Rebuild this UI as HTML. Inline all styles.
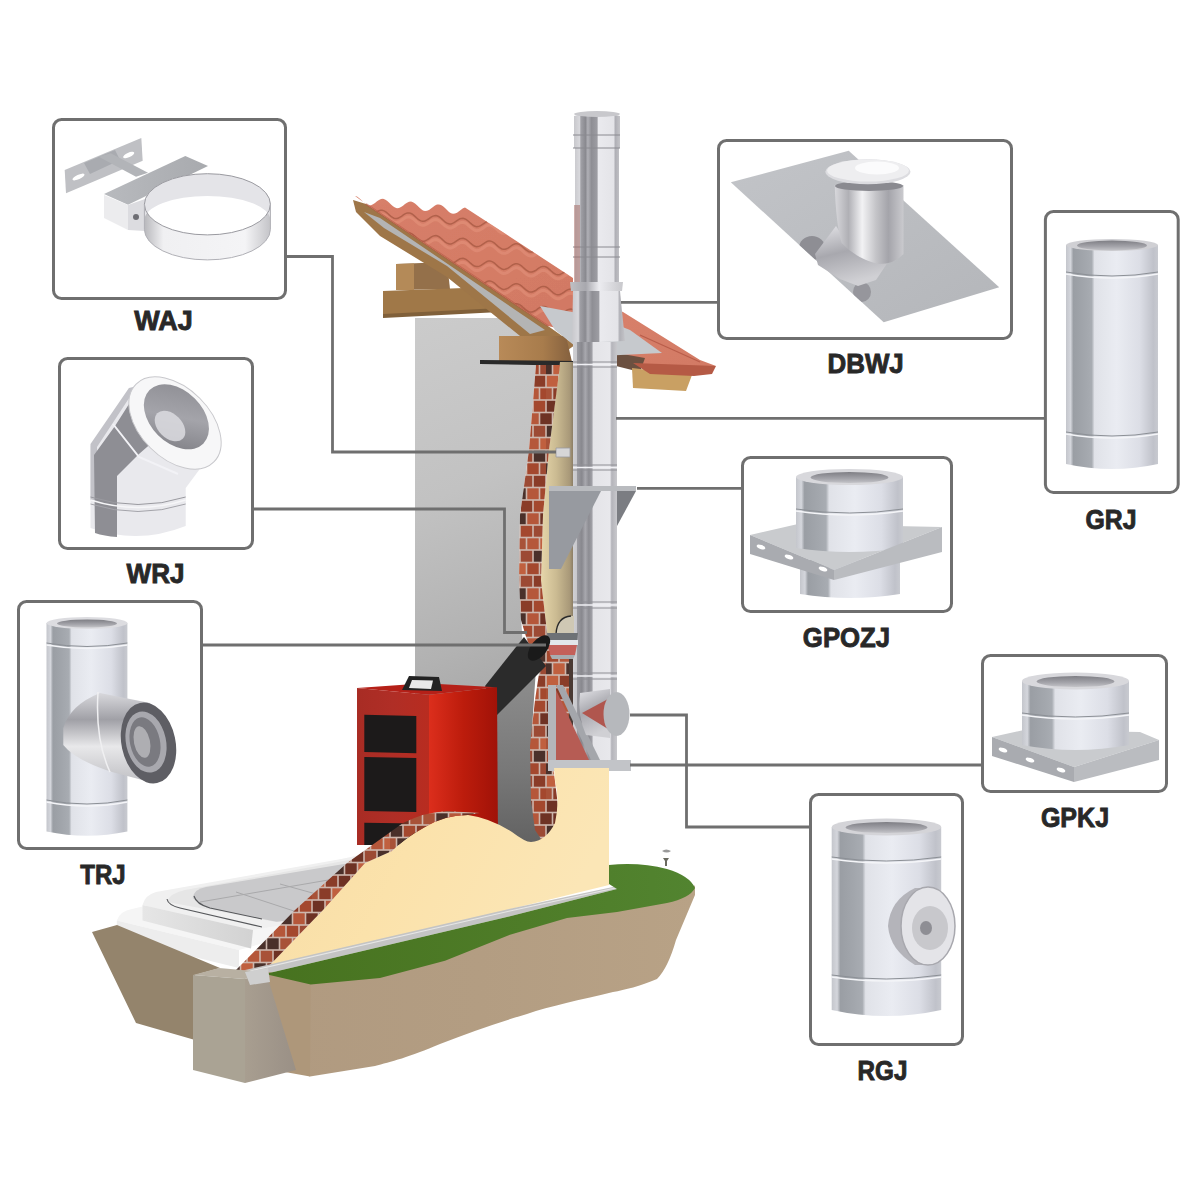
<!DOCTYPE html>
<html><head><meta charset="utf-8">
<style>
html,body{margin:0;padding:0;background:#fff;width:1200px;height:1200px;overflow:hidden}
svg{display:block}
text{font-family:"Liberation Sans",sans-serif;font-weight:bold;fill:#282828;stroke:#282828;stroke-width:0.9px;font-size:28px;text-anchor:middle}
</style></head>
<body>
<svg width="1200" height="1200" viewBox="0 0 1200 1200">
<defs>
<linearGradient id="gWall" gradientUnits="userSpaceOnUse" x1="400" y1="330" x2="560" y2="720">
<stop offset="0" stop-color="#cbcbcb"/><stop offset="0.4" stop-color="#c2c2c2"/><stop offset="0.75" stop-color="#b2b2b2"/><stop offset="1" stop-color="#a2a2a2"/></linearGradient>
<linearGradient id="gWallShade" gradientUnits="userSpaceOnUse" x1="0" y1="690" x2="0" y2="850"><stop offset="0" stop-color="#8a8a8a"/><stop offset="0.5" stop-color="#787878"/><stop offset="1" stop-color="#606060"/></linearGradient>
<linearGradient id="gTile" x1="0" y1="0" x2="1" y2="1"><stop offset="0" stop-color="#d8806a"/><stop offset="1" stop-color="#d27a64"/></linearGradient>
<linearGradient id="gWood" x1="0" y1="0" x2="1" y2="0"><stop offset="0" stop-color="#b88a58"/><stop offset="0.6" stop-color="#a87c4c"/><stop offset="1" stop-color="#84603e"/></linearGradient>
<linearGradient id="gIns" x1="0" y1="0" x2="1" y2="0"><stop offset="0" stop-color="#e6d6aa"/><stop offset="0.45" stop-color="#cbbb92"/><stop offset="0.85" stop-color="#a89878"/><stop offset="1" stop-color="#7a6e5a"/></linearGradient>
<linearGradient id="gPipe" x1="0" y1="0" x2="1" y2="0">
<stop offset="0" stop-color="#c8c8cc"/><stop offset="0.12" stop-color="#d8d8dc"/><stop offset="0.15" stop-color="#a0a0a6"/><stop offset="0.25" stop-color="#8a8a90"/><stop offset="0.3" stop-color="#b0b0b6"/><stop offset="0.38" stop-color="#8e8e94"/><stop offset="0.5" stop-color="#9c9ca2"/><stop offset="0.53" stop-color="#eaeaee"/><stop offset="0.86" stop-color="#e4e4e8"/><stop offset="0.9" stop-color="#b0b0b6"/><stop offset="1" stop-color="#c4c4c8"/>
</linearGradient>
<linearGradient id="gPipe2" x1="0" y1="0" x2="1" y2="0">
<stop offset="0" stop-color="#d0d0d4"/><stop offset="0.08" stop-color="#c8c8cc"/><stop offset="0.1" stop-color="#9a9aa0"/><stop offset="0.2" stop-color="#88888e"/><stop offset="0.28" stop-color="#a8a8ae"/><stop offset="0.36" stop-color="#8c8c92"/><stop offset="0.43" stop-color="#a0a0a6"/><stop offset="0.46" stop-color="#e4e4e8"/><stop offset="0.84" stop-color="#e8e8ec"/><stop offset="0.88" stop-color="#b4b4ba"/><stop offset="1" stop-color="#c8c8cc"/>
</linearGradient>
<linearGradient id="gBoilerSide" x1="0" y1="0" x2="1" y2="0"><stop offset="0" stop-color="#dc2e1c"/><stop offset="0.5" stop-color="#bc1c0c"/><stop offset="1" stop-color="#a01208"/></linearGradient>
<linearGradient id="gCream" x1="0" y1="0" x2="1" y2="0.3"><stop offset="0" stop-color="#f6dca6"/><stop offset="0.5" stop-color="#fbe2ab"/><stop offset="1" stop-color="#fbe6b6"/></linearGradient>
<linearGradient id="gGrass" x1="0" y1="0" x2="1" y2="0"><stop offset="0" stop-color="#47721f"/><stop offset="0.6" stop-color="#4e7c28"/><stop offset="1" stop-color="#528430"/></linearGradient>
<linearGradient id="gSoil" x1="0" y1="0" x2="1" y2="0"><stop offset="0" stop-color="#b09a80"/><stop offset="0.5" stop-color="#b39d82"/><stop offset="1" stop-color="#b8a286"/></linearGradient>
<pattern id="pBrick" width="78" height="100" patternUnits="userSpaceOnUse">
<rect width="78" height="100" fill="#cdb6ac"/>
<rect x="0.8" y="0.8" width="11.4" height="10.9" fill="#6e3224"/>
<rect x="13.8" y="0.8" width="11.4" height="10.9" fill="#b5573a"/>
<rect x="26.8" y="0.8" width="11.4" height="10.9" fill="#c0603f"/>
<rect x="39.8" y="0.8" width="11.4" height="10.9" fill="#a85238"/>
<rect x="52.8" y="0.8" width="11.4" height="10.9" fill="#8a3c28"/>
<rect x="65.8" y="0.8" width="11.4" height="10.9" fill="#a4482e"/>
<rect x="78.8" y="0.8" width="11.4" height="10.9" fill="#a85238"/>
<rect x="91.8" y="0.8" width="11.4" height="10.9" fill="#9c4a34"/>
<rect x="-5.7" y="13.3" width="11.4" height="10.9" fill="#6e3224"/>
<rect x="7.3" y="13.3" width="11.4" height="10.9" fill="#6e3224"/>
<rect x="20.3" y="13.3" width="11.4" height="10.9" fill="#a85238"/>
<rect x="33.3" y="13.3" width="11.4" height="10.9" fill="#a85238"/>
<rect x="46.3" y="13.3" width="11.4" height="10.9" fill="#4a302a"/>
<rect x="59.3" y="13.3" width="11.4" height="10.9" fill="#b5573a"/>
<rect x="72.3" y="13.3" width="11.4" height="10.9" fill="#6e3224"/>
<rect x="85.3" y="13.3" width="11.4" height="10.9" fill="#b5573a"/>
<rect x="0.8" y="25.8" width="11.4" height="10.9" fill="#4a302a"/>
<rect x="13.8" y="25.8" width="11.4" height="10.9" fill="#a4482e"/>
<rect x="26.8" y="25.8" width="11.4" height="10.9" fill="#8a3c28"/>
<rect x="39.8" y="25.8" width="11.4" height="10.9" fill="#b5573a"/>
<rect x="52.8" y="25.8" width="11.4" height="10.9" fill="#a4482e"/>
<rect x="65.8" y="25.8" width="11.4" height="10.9" fill="#9c4a34"/>
<rect x="78.8" y="25.8" width="11.4" height="10.9" fill="#a4482e"/>
<rect x="91.8" y="25.8" width="11.4" height="10.9" fill="#9c4a34"/>
<rect x="-5.7" y="38.3" width="11.4" height="10.9" fill="#a85238"/>
<rect x="7.3" y="38.3" width="11.4" height="10.9" fill="#4a302a"/>
<rect x="20.3" y="38.3" width="11.4" height="10.9" fill="#4a302a"/>
<rect x="33.3" y="38.3" width="11.4" height="10.9" fill="#4a302a"/>
<rect x="46.3" y="38.3" width="11.4" height="10.9" fill="#a85238"/>
<rect x="59.3" y="38.3" width="11.4" height="10.9" fill="#b5573a"/>
<rect x="72.3" y="38.3" width="11.4" height="10.9" fill="#c0603f"/>
<rect x="85.3" y="38.3" width="11.4" height="10.9" fill="#8a3c28"/>
<rect x="0.8" y="50.8" width="11.4" height="10.9" fill="#a4482e"/>
<rect x="13.8" y="50.8" width="11.4" height="10.9" fill="#b5573a"/>
<rect x="26.8" y="50.8" width="11.4" height="10.9" fill="#a85238"/>
<rect x="39.8" y="50.8" width="11.4" height="10.9" fill="#6e3224"/>
<rect x="52.8" y="50.8" width="11.4" height="10.9" fill="#9c4a34"/>
<rect x="65.8" y="50.8" width="11.4" height="10.9" fill="#4a302a"/>
<rect x="78.8" y="50.8" width="11.4" height="10.9" fill="#9c4a34"/>
<rect x="91.8" y="50.8" width="11.4" height="10.9" fill="#4a302a"/>
<rect x="-5.7" y="63.3" width="11.4" height="10.9" fill="#4a302a"/>
<rect x="7.3" y="63.3" width="11.4" height="10.9" fill="#c0603f"/>
<rect x="20.3" y="63.3" width="11.4" height="10.9" fill="#4a302a"/>
<rect x="33.3" y="63.3" width="11.4" height="10.9" fill="#6e3224"/>
<rect x="46.3" y="63.3" width="11.4" height="10.9" fill="#c0603f"/>
<rect x="59.3" y="63.3" width="11.4" height="10.9" fill="#a4482e"/>
<rect x="72.3" y="63.3" width="11.4" height="10.9" fill="#9c4a34"/>
<rect x="85.3" y="63.3" width="11.4" height="10.9" fill="#b5573a"/>
<rect x="0.8" y="75.8" width="11.4" height="10.9" fill="#c0603f"/>
<rect x="13.8" y="75.8" width="11.4" height="10.9" fill="#8a3c28"/>
<rect x="26.8" y="75.8" width="11.4" height="10.9" fill="#6e3224"/>
<rect x="39.8" y="75.8" width="11.4" height="10.9" fill="#9c4a34"/>
<rect x="52.8" y="75.8" width="11.4" height="10.9" fill="#9c4a34"/>
<rect x="65.8" y="75.8" width="11.4" height="10.9" fill="#8a3c28"/>
<rect x="78.8" y="75.8" width="11.4" height="10.9" fill="#8a3c28"/>
<rect x="91.8" y="75.8" width="11.4" height="10.9" fill="#a85238"/>
<rect x="-5.7" y="88.3" width="11.4" height="10.9" fill="#a85238"/>
<rect x="7.3" y="88.3" width="11.4" height="10.9" fill="#8a3c28"/>
<rect x="20.3" y="88.3" width="11.4" height="10.9" fill="#c0603f"/>
<rect x="33.3" y="88.3" width="11.4" height="10.9" fill="#8a3c28"/>
<rect x="46.3" y="88.3" width="11.4" height="10.9" fill="#4a302a"/>
<rect x="59.3" y="88.3" width="11.4" height="10.9" fill="#b5573a"/>
<rect x="72.3" y="88.3" width="11.4" height="10.9" fill="#a4482e"/>
<rect x="85.3" y="88.3" width="11.4" height="10.9" fill="#9c4a34"/>
</pattern>
<linearGradient id="gMetal" x1="0" y1="0" x2="1" y2="0">
<stop offset="0" stop-color="#c4c6cc"/><stop offset="0.05" stop-color="#d4d6dc"/><stop offset="0.08" stop-color="#9a9ea4"/><stop offset="0.2" stop-color="#a2a6ac"/><stop offset="0.28" stop-color="#a8acb2"/><stop offset="0.31" stop-color="#e0e2e8"/><stop offset="0.55" stop-color="#eaecf2"/><stop offset="0.8" stop-color="#dcdee6"/><stop offset="0.95" stop-color="#c0c2ca"/><stop offset="1" stop-color="#c8cad0"/>
</linearGradient>
<linearGradient id="gSlab" x1="0" y1="0" x2="1" y2="0"><stop offset="0" stop-color="#e6e6e6"/><stop offset="1" stop-color="#d2d2d2"/></linearGradient>
<linearGradient id="gArm" x1="0" y1="0" x2="1" y2="0"><stop offset="0" stop-color="#b8babe"/><stop offset="1" stop-color="#a8aaae"/></linearGradient>
<linearGradient id="gRing" x1="0" y1="0" x2="1" y2="0"><stop offset="0" stop-color="#b8b8bc"/><stop offset="0.15" stop-color="#f0f0f2"/><stop offset="0.8" stop-color="#f4f4f6"/><stop offset="1" stop-color="#c4c4c8"/></linearGradient>
<linearGradient id="gHole" x1="0" y1="0" x2="1" y2="1"><stop offset="0" stop-color="#8a8a90"/><stop offset="0.5" stop-color="#a4a4aa"/><stop offset="1" stop-color="#7a7a80"/></linearGradient>
<linearGradient id="gBranch" x1="0" y1="0" x2="0" y2="1"><stop offset="0" stop-color="#d8d8dc"/><stop offset="0.3" stop-color="#a0a0a6"/><stop offset="0.6" stop-color="#e8e8ea"/><stop offset="1" stop-color="#c0c0c4"/></linearGradient>
<linearGradient id="gMetal2" x1="0" y1="0" x2="1" y2="0"><stop offset="0" stop-color="#d8d8dc"/><stop offset="0.2" stop-color="#b0b0b5"/><stop offset="0.4" stop-color="#f2f2f4"/><stop offset="0.6" stop-color="#c4c4c8"/><stop offset="0.78" stop-color="#a4a4aa"/><stop offset="1" stop-color="#cacace"/></linearGradient>
<linearGradient id="gSheet" x1="0" y1="0" x2="1" y2="1"><stop offset="0" stop-color="#c2c4c8"/><stop offset="1" stop-color="#b4b6ba"/></linearGradient>
<linearGradient id="gTube" x1="0" y1="0" x2="0.3" y2="1"><stop offset="0" stop-color="#e4e4e8"/><stop offset="0.5" stop-color="#a8a8ae"/><stop offset="1" stop-color="#d0d0d4"/></linearGradient>
<linearGradient id="gCollar" x1="0" y1="0" x2="1" y2="0"><stop offset="0" stop-color="#c0c0c4"/><stop offset="0.3" stop-color="#a8a8ae"/><stop offset="0.55" stop-color="#ececf0"/><stop offset="1" stop-color="#c8c8cc"/></linearGradient>
<linearGradient id="gTopHole" x1="0" y1="0" x2="0" y2="1"><stop offset="0" stop-color="#7e7e84"/><stop offset="0.6" stop-color="#a4a4aa"/><stop offset="1" stop-color="#c4c4c8"/></linearGradient>
<linearGradient id="gFound" x1="0" y1="0" x2="1" y2="0"><stop offset="0" stop-color="#a89e90"/><stop offset="1" stop-color="#9a9086"/></linearGradient>
<linearGradient id="gBoilerFront" x1="0" y1="0" x2="1" y2="0"><stop offset="0" stop-color="#a82c24"/><stop offset="0.5" stop-color="#b02e26"/><stop offset="1" stop-color="#b82c20"/></linearGradient>
</defs>

<g id="house">
<!-- gray wall panel -->
<path d="M415,318 L520,318 L540,340 L548,360 L536,365 L529,450 L520,515 L519,580 L523,650 L531,745 L536,800 L550,850 L496,850 L496,700 L415,700 Z" fill="url(#gWall)"/>
<path d="M496,714 L536,668 L531,745 L536,800 L550,850 L496,850 Z" fill="url(#gWallShade)"/>
<!-- wooden beams behind roof -->
<path d="M396,264 L447,262 L450,289 L396,290 Z" fill="#94704a"/>
<path d="M396,264 L414,263.5 L414,290 L396,290 Z" fill="#b48a58"/>
<path d="M383,291 L491,287 L500,310 L383,317 Z" fill="#a07848"/>
<path d="M383,314 L500,308 L500,312 L383,318 Z" fill="#80603a"/>
<!-- roof underlayer (battens / membrane) -->
<path d="M353,200 L366,204 L548,326 L575,345 L565,352 L525,340 L447,277 L380,236 L356,212 Z" fill="#9e7648"/>
<path d="M364,212 L380,218 L545,330 L530,334 L447,266 L384,228 Z" fill="#b4b4b4"/>
<!-- roof tiles left -->
<clipPath id="cTile"><path d="M355.0,196.0 L357.0,196.6 L359.0,197.9 L361.0,199.7 L363.0,201.7 L365.0,203.5 L367.0,204.8 L369.0,205.4 L371.0,205.2 L373.0,204.3 L375.0,202.9 L377.0,201.3 L379.0,199.9 L381.0,199.0 L383.0,198.8 L385.0,199.4 L387.0,200.7 L389.0,202.5 L391.0,204.5 L393.0,206.3 L395.0,207.6 L397.0,208.2 L399.0,208.0 L401.0,207.1 L403.0,205.7 L405.0,204.1 L407.0,202.7 L409.0,201.8 L411.0,201.6 L413.0,202.2 L415.0,203.5 L417.0,205.3 L419.0,207.3 L421.0,209.1 L423.0,210.4 L425.0,211.0 L427.0,210.8 L429.0,209.9 L431.0,208.5 L433.0,206.9 L435.0,205.5 L437.0,204.6 L439.0,204.4 L441.0,205.0 L443.0,206.3 L445.0,208.1 L447.0,210.1 L449.0,211.9 L451.0,213.2 L453.0,213.8 L455.0,213.6 L457.0,212.7 L459.0,211.3 L461.0,209.7 L463.0,208.3 L465.0,207.4 L573,278 L573,332 L548,326 L366,204 Z"/></clipPath>
<path d="M355.0,196.0 L357.0,196.6 L359.0,197.9 L361.0,199.7 L363.0,201.7 L365.0,203.5 L367.0,204.8 L369.0,205.4 L371.0,205.2 L373.0,204.3 L375.0,202.9 L377.0,201.3 L379.0,199.9 L381.0,199.0 L383.0,198.8 L385.0,199.4 L387.0,200.7 L389.0,202.5 L391.0,204.5 L393.0,206.3 L395.0,207.6 L397.0,208.2 L399.0,208.0 L401.0,207.1 L403.0,205.7 L405.0,204.1 L407.0,202.7 L409.0,201.8 L411.0,201.6 L413.0,202.2 L415.0,203.5 L417.0,205.3 L419.0,207.3 L421.0,209.1 L423.0,210.4 L425.0,211.0 L427.0,210.8 L429.0,209.9 L431.0,208.5 L433.0,206.9 L435.0,205.5 L437.0,204.6 L439.0,204.4 L441.0,205.0 L443.0,206.3 L445.0,208.1 L447.0,210.1 L449.0,211.9 L451.0,213.2 L453.0,213.8 L455.0,213.6 L457.0,212.7 L459.0,211.3 L461.0,209.7 L463.0,208.3 L465.0,207.4 L573,278 L573,332 L548,326 L366,204 Z" fill="url(#gTile)"/>
<g clip-path="url(#cTile)" stroke="#e89a82" stroke-width="3" fill="none" opacity="0.45">
<path d="M340.0,216.8 L341.5,217.2 L343.0,217.1 L344.5,216.6 L346.0,215.8 L347.5,214.9 L349.0,213.8 L350.5,212.8 L352.0,212.0 L353.5,211.6 L355.0,211.5 L356.5,211.9 L358.0,212.6 L359.5,213.7 L361.0,215.0 L362.5,216.4 L364.0,217.7 L365.5,218.7 L367.0,219.5 L368.5,219.8 L370.0,219.8 L371.5,219.3 L373.0,218.6 L374.5,217.6 L376.0,216.5 L377.5,215.5 L379.0,214.7 L380.5,214.3 L382.0,214.2 L383.5,214.6 L385.0,215.3 L386.5,216.4 L388.0,217.7 L389.5,219.1 L391.0,220.3 L392.5,221.4 L394.0,222.2 L395.5,222.6 L397.0,222.5 L398.5,222.0 L400.0,221.2 L401.5,220.3 L403.0,219.2 L404.5,218.2 L406.0,217.4 L407.5,217.0 L409.0,216.9 L410.5,217.3 L412.0,218.0 L413.5,219.1 L415.0,220.4 L416.5,221.8 L418.0,223.1 L419.5,224.1 L421.0,224.9 L422.5,225.2 L424.0,225.2 L425.5,224.7 L427.0,223.9 L428.5,223.0 L430.0,221.9 L431.5,220.9 L433.0,220.1 L434.5,219.7 L436.0,219.6 L437.5,220.0 L439.0,220.7 L440.5,221.8 L442.0,223.1 L443.5,224.5 L445.0,225.8 L446.5,226.8 L448.0,227.6 L449.5,227.9 L451.0,227.9 L452.5,227.4 L454.0,226.7 L455.5,225.7 L457.0,224.6 L458.5,223.6 L460.0,222.8 L461.5,222.4 L463.0,222.3 L464.5,222.7 L466.0,223.4 L467.5,224.5 L469.0,225.8 L470.5,227.2 L472.0,228.4 L473.5,229.5 L475.0,230.3 L476.5,230.7 L478.0,230.6 L479.5,230.1 L481.0,229.3 L482.5,228.4 L484.0,227.3 L485.5,226.3 L487.0,225.5 L488.5,225.1 L490.0,225.0 L491.5,225.4 L493.0,226.1 L494.5,227.2 L496.0,228.5 L497.5,229.9 L499.0,231.2 L500.5,232.2 L502.0,233.0 L503.5,233.3 L505.0,233.3 L506.5,232.8 L508.0,232.1 L509.5,231.1 L511.0,230.0 L512.5,229.0 L514.0,228.2 L515.5,227.8 L517.0,227.7 L518.5,228.1 L520.0,228.8 L521.5,229.9 L523.0,231.2 L524.5,232.6 L526.0,233.8 L527.5,234.9 L529.0,235.7 L530.5,236.1 L532.0,236.0 L533.5,235.5 L535.0,234.8 L536.5,233.8 L538.0,232.7 L539.5,231.7 L541.0,230.9 L542.5,230.5 L544.0,230.4 L545.5,230.8 L547.0,231.5 L548.5,232.6 L550.0,233.9 L551.5,235.3 L553.0,236.6 L554.5,237.6 L556.0,238.4 L557.5,238.8 L559.0,238.7 L560.5,238.2 L562.0,237.5 L563.5,236.5 L565.0,235.4 L566.5,234.4 L568.0,233.6 L569.5,233.2 L571.0,233.1 L572.5,233.5 L574.0,234.2 L575.5,235.3 L577.0,236.6 L578.5,238.0 L580.0,239.2 L581.5,240.3 L583.0,241.1 L584.5,241.4 L586.0,241.4 L587.5,240.9 L589.0,240.2"/>
<path d="M340.0,236.8 L341.5,237.2 L343.0,237.1 L344.5,236.6 L346.0,235.8 L347.5,234.9 L349.0,233.8 L350.5,232.8 L352.0,232.0 L353.5,231.6 L355.0,231.5 L356.5,231.9 L358.0,232.6 L359.5,233.7 L361.0,235.0 L362.5,236.4 L364.0,237.7 L365.5,238.7 L367.0,239.5 L368.5,239.8 L370.0,239.8 L371.5,239.3 L373.0,238.6 L374.5,237.6 L376.0,236.5 L377.5,235.5 L379.0,234.7 L380.5,234.3 L382.0,234.2 L383.5,234.6 L385.0,235.3 L386.5,236.4 L388.0,237.7 L389.5,239.1 L391.0,240.3 L392.5,241.4 L394.0,242.2 L395.5,242.6 L397.0,242.5 L398.5,242.0 L400.0,241.2 L401.5,240.3 L403.0,239.2 L404.5,238.2 L406.0,237.4 L407.5,237.0 L409.0,236.9 L410.5,237.3 L412.0,238.0 L413.5,239.1 L415.0,240.4 L416.5,241.8 L418.0,243.1 L419.5,244.1 L421.0,244.9 L422.5,245.2 L424.0,245.2 L425.5,244.7 L427.0,243.9 L428.5,243.0 L430.0,241.9 L431.5,240.9 L433.0,240.1 L434.5,239.7 L436.0,239.6 L437.5,240.0 L439.0,240.7 L440.5,241.8 L442.0,243.1 L443.5,244.5 L445.0,245.8 L446.5,246.8 L448.0,247.6 L449.5,247.9 L451.0,247.9 L452.5,247.4 L454.0,246.7 L455.5,245.7 L457.0,244.6 L458.5,243.6 L460.0,242.8 L461.5,242.4 L463.0,242.3 L464.5,242.7 L466.0,243.4 L467.5,244.5 L469.0,245.8 L470.5,247.2 L472.0,248.4 L473.5,249.5 L475.0,250.3 L476.5,250.7 L478.0,250.6 L479.5,250.1 L481.0,249.3 L482.5,248.4 L484.0,247.3 L485.5,246.3 L487.0,245.5 L488.5,245.1 L490.0,245.0 L491.5,245.4 L493.0,246.1 L494.5,247.2 L496.0,248.5 L497.5,249.9 L499.0,251.2 L500.5,252.2 L502.0,253.0 L503.5,253.3 L505.0,253.3 L506.5,252.8 L508.0,252.1 L509.5,251.1 L511.0,250.0 L512.5,249.0 L514.0,248.2 L515.5,247.8 L517.0,247.7 L518.5,248.1 L520.0,248.8 L521.5,249.9 L523.0,251.2 L524.5,252.6 L526.0,253.8 L527.5,254.9 L529.0,255.7 L530.5,256.1 L532.0,256.0 L533.5,255.5 L535.0,254.8 L536.5,253.8 L538.0,252.7 L539.5,251.7 L541.0,250.9 L542.5,250.5 L544.0,250.4 L545.5,250.8 L547.0,251.5 L548.5,252.6 L550.0,253.9 L551.5,255.3 L553.0,256.6 L554.5,257.6 L556.0,258.4 L557.5,258.8 L559.0,258.7 L560.5,258.2 L562.0,257.5 L563.5,256.5 L565.0,255.4 L566.5,254.4 L568.0,253.6 L569.5,253.2 L571.0,253.1 L572.5,253.5 L574.0,254.2 L575.5,255.3 L577.0,256.6 L578.5,258.0 L580.0,259.2 L581.5,260.3 L583.0,261.1 L584.5,261.4 L586.0,261.4 L587.5,260.9 L589.0,260.1"/>
<path d="M340.0,256.8 L341.5,257.1 L343.0,257.1 L344.5,256.6 L346.0,255.8 L347.5,254.9 L349.0,253.8 L350.5,252.8 L352.0,252.0 L353.5,251.6 L355.0,251.5 L356.5,251.9 L358.0,252.6 L359.5,253.7 L361.0,255.0 L362.5,256.4 L364.0,257.6 L365.5,258.7 L367.0,259.5 L368.5,259.9 L370.0,259.8 L371.5,259.3 L373.0,258.6 L374.5,257.6 L376.0,256.5 L377.5,255.5 L379.0,254.7 L380.5,254.3 L382.0,254.2 L383.5,254.6 L385.0,255.3 L386.5,256.4 L388.0,257.7 L389.5,259.1 L391.0,260.3 L392.5,261.4 L394.0,262.2 L395.5,262.6 L397.0,262.5 L398.5,262.0 L400.0,261.2 L401.5,260.3 L403.0,259.2 L404.5,258.2 L406.0,257.4 L407.5,257.0 L409.0,256.9 L410.5,257.3 L412.0,258.0 L413.5,259.1 L415.0,260.4 L416.5,261.8 L418.0,263.1 L419.5,264.1 L421.0,264.9 L422.5,265.2 L424.0,265.2 L425.5,264.7 L427.0,263.9 L428.5,263.0 L430.0,261.9 L431.5,260.9 L433.0,260.1 L434.5,259.7 L436.0,259.6 L437.5,260.0 L439.0,260.7 L440.5,261.8 L442.0,263.1 L443.5,264.5 L445.0,265.8 L446.5,266.8 L448.0,267.6 L449.5,267.9 L451.0,267.9 L452.5,267.4 L454.0,266.6 L455.5,265.7 L457.0,264.6 L458.5,263.6 L460.0,262.8 L461.5,262.4 L463.0,262.3 L464.5,262.7 L466.0,263.4 L467.5,264.5 L469.0,265.8 L470.5,267.2 L472.0,268.4 L473.5,269.5 L475.0,270.3 L476.5,270.6 L478.0,270.6 L479.5,270.1 L481.0,269.4 L482.5,268.4 L484.0,267.3 L485.5,266.3 L487.0,265.5 L488.5,265.1 L490.0,265.0 L491.5,265.4 L493.0,266.1 L494.5,267.2 L496.0,268.5 L497.5,269.9 L499.0,271.1 L500.5,272.2 L502.0,273.0 L503.5,273.4 L505.0,273.3 L506.5,272.8 L508.0,272.1 L509.5,271.1 L511.0,270.0 L512.5,269.0 L514.0,268.2 L515.5,267.8 L517.0,267.7 L518.5,268.1 L520.0,268.8 L521.5,269.9 L523.0,271.2 L524.5,272.6 L526.0,273.9 L527.5,274.9 L529.0,275.7 L530.5,276.1 L532.0,276.0 L533.5,275.5 L535.0,274.8 L536.5,273.8 L538.0,272.7 L539.5,271.7 L541.0,270.9 L542.5,270.5 L544.0,270.4 L545.5,270.8 L547.0,271.5 L548.5,272.6 L550.0,273.9 L551.5,275.3 L553.0,276.6 L554.5,277.6 L556.0,278.4 L557.5,278.8 L559.0,278.7 L560.5,278.2 L562.0,277.4 L563.5,276.5 L565.0,275.4 L566.5,274.4 L568.0,273.6 L569.5,273.2 L571.0,273.1 L572.5,273.5 L574.0,274.2 L575.5,275.3 L577.0,276.6 L578.5,278.0 L580.0,279.2 L581.5,280.3 L583.0,281.1 L584.5,281.4 L586.0,281.4 L587.5,280.9 L589.0,280.1"/>
<path d="M340.0,276.8 L341.5,277.1 L343.0,277.1 L344.5,276.6 L346.0,275.9 L347.5,274.9 L349.0,273.8 L350.5,272.8 L352.0,272.0 L353.5,271.6 L355.0,271.5 L356.5,271.9 L358.0,272.6 L359.5,273.7 L361.0,275.0 L362.5,276.4 L364.0,277.6 L365.5,278.7 L367.0,279.5 L368.5,279.9 L370.0,279.8 L371.5,279.3 L373.0,278.6 L374.5,277.6 L376.0,276.5 L377.5,275.5 L379.0,274.7 L380.5,274.3 L382.0,274.2 L383.5,274.6 L385.0,275.3 L386.5,276.4 L388.0,277.7 L389.5,279.1 L391.0,280.4 L392.5,281.4 L394.0,282.2 L395.5,282.6 L397.0,282.5 L398.5,282.0 L400.0,281.2 L401.5,280.3 L403.0,279.2 L404.5,278.2 L406.0,277.4 L407.5,277.0 L409.0,276.9 L410.5,277.3 L412.0,278.0 L413.5,279.1 L415.0,280.4 L416.5,281.8 L418.0,283.1 L419.5,284.1 L421.0,284.9 L422.5,285.2 L424.0,285.2 L425.5,284.7 L427.0,283.9 L428.5,283.0 L430.0,281.9 L431.5,280.9 L433.0,280.1 L434.5,279.7 L436.0,279.6 L437.5,280.0 L439.0,280.7 L440.5,281.8 L442.0,283.1 L443.5,284.5 L445.0,285.8 L446.5,286.8 L448.0,287.6 L449.5,287.9 L451.0,287.9 L452.5,287.4 L454.0,286.6 L455.5,285.7 L457.0,284.6 L458.5,283.6 L460.0,282.8 L461.5,282.4 L463.0,282.3 L464.5,282.7 L466.0,283.4 L467.5,284.5 L469.0,285.8 L470.5,287.2 L472.0,288.4 L473.5,289.5 L475.0,290.3 L476.5,290.6 L478.0,290.6 L479.5,290.1 L481.0,289.4 L482.5,288.4 L484.0,287.3 L485.5,286.3 L487.0,285.5 L488.5,285.1 L490.0,285.0 L491.5,285.4 L493.0,286.1 L494.5,287.2 L496.0,288.5 L497.5,289.9 L499.0,291.1 L500.5,292.2 L502.0,293.0 L503.5,293.4 L505.0,293.3 L506.5,292.8 L508.0,292.1 L509.5,291.1 L511.0,290.0 L512.5,289.0 L514.0,288.2 L515.5,287.8 L517.0,287.7 L518.5,288.1 L520.0,288.8 L521.5,289.9 L523.0,291.2 L524.5,292.6 L526.0,293.9 L527.5,294.9 L529.0,295.7 L530.5,296.1 L532.0,296.0 L533.5,295.5 L535.0,294.8 L536.5,293.8 L538.0,292.7 L539.5,291.7 L541.0,290.9 L542.5,290.5 L544.0,290.4 L545.5,290.8 L547.0,291.5 L548.5,292.6 L550.0,293.9 L551.5,295.3 L553.0,296.6 L554.5,297.6 L556.0,298.4 L557.5,298.8 L559.0,298.7 L560.5,298.2 L562.0,297.4 L563.5,296.5 L565.0,295.4 L566.5,294.4 L568.0,293.6 L569.5,293.2 L571.0,293.1 L572.5,293.5 L574.0,294.2 L575.5,295.3 L577.0,296.6 L578.5,298.0 L580.0,299.2 L581.5,300.3 L583.0,301.1 L584.5,301.4 L586.0,301.4 L587.5,300.9 L589.0,300.1"/>
<path d="M340.0,296.8 L341.5,297.1 L343.0,297.1 L344.5,296.6 L346.0,295.9 L347.5,294.9 L349.0,293.8 L350.5,292.8 L352.0,292.0 L353.5,291.6 L355.0,291.5 L356.5,291.9 L358.0,292.6 L359.5,293.7 L361.0,295.0 L362.5,296.4 L364.0,297.6 L365.5,298.7 L367.0,299.5 L368.5,299.9 L370.0,299.8 L371.5,299.3 L373.0,298.6 L374.5,297.6 L376.0,296.5 L377.5,295.5 L379.0,294.7 L380.5,294.3 L382.0,294.2 L383.5,294.6 L385.0,295.3 L386.5,296.4 L388.0,297.7 L389.5,299.1 L391.0,300.4 L392.5,301.4 L394.0,302.2 L395.5,302.6 L397.0,302.5 L398.5,302.0 L400.0,301.2 L401.5,300.3 L403.0,299.2 L404.5,298.2 L406.0,297.4 L407.5,297.0 L409.0,296.9 L410.5,297.3 L412.0,298.0 L413.5,299.1 L415.0,300.4 L416.5,301.8 L418.0,303.1 L419.5,304.1 L421.0,304.9 L422.5,305.2 L424.0,305.2 L425.5,304.7 L427.0,303.9 L428.5,303.0 L430.0,301.9 L431.5,300.9 L433.0,300.1 L434.5,299.7 L436.0,299.6 L437.5,300.0 L439.0,300.7 L440.5,301.8 L442.0,303.1 L443.5,304.5 L445.0,305.8 L446.5,306.8 L448.0,307.6 L449.5,307.9 L451.0,307.9 L452.5,307.4 L454.0,306.6 L455.5,305.7 L457.0,304.6 L458.5,303.6 L460.0,302.8 L461.5,302.4 L463.0,302.3 L464.5,302.7 L466.0,303.4 L467.5,304.5 L469.0,305.8 L470.5,307.2 L472.0,308.4 L473.5,309.5 L475.0,310.3 L476.5,310.6 L478.0,310.6 L479.5,310.1 L481.0,309.4 L482.5,308.4 L484.0,307.3 L485.5,306.3 L487.0,305.5 L488.5,305.1 L490.0,305.0 L491.5,305.4 L493.0,306.1 L494.5,307.2 L496.0,308.5 L497.5,309.9 L499.0,311.1 L500.5,312.2 L502.0,313.0 L503.5,313.4 L505.0,313.3 L506.5,312.8 L508.0,312.1 L509.5,311.1 L511.0,310.0 L512.5,309.0 L514.0,308.2 L515.5,307.8 L517.0,307.7 L518.5,308.1 L520.0,308.8 L521.5,309.9 L523.0,311.2 L524.5,312.6 L526.0,313.9 L527.5,314.9 L529.0,315.7 L530.5,316.1 L532.0,316.0 L533.5,315.5 L535.0,314.8 L536.5,313.8 L538.0,312.7 L539.5,311.7 L541.0,310.9 L542.5,310.5 L544.0,310.4 L545.5,310.8 L547.0,311.5 L548.5,312.6 L550.0,313.9 L551.5,315.3 L553.0,316.6 L554.5,317.6 L556.0,318.4 L557.5,318.8 L559.0,318.7 L560.5,318.2 L562.0,317.4 L563.5,316.5 L565.0,315.4 L566.5,314.4 L568.0,313.6 L569.5,313.2 L571.0,313.1 L572.5,313.5 L574.0,314.2 L575.5,315.3 L577.0,316.6 L578.5,318.0 L580.0,319.2 L581.5,320.3 L583.0,321.1 L584.5,321.4 L586.0,321.4 L587.5,320.9 L589.0,320.1"/>
<path d="M340.0,316.8 L341.5,317.1 L343.0,317.1 L344.5,316.6 L346.0,315.9 L347.5,314.9 L349.0,313.8 L350.5,312.8 L352.0,312.0 L353.5,311.6 L355.0,311.5 L356.5,311.9 L358.0,312.6 L359.5,313.7 L361.0,315.0 L362.5,316.4 L364.0,317.6 L365.5,318.7 L367.0,319.5 L368.5,319.9 L370.0,319.8 L371.5,319.3 L373.0,318.6 L374.5,317.6 L376.0,316.5 L377.5,315.5 L379.0,314.7 L380.5,314.3 L382.0,314.2 L383.5,314.6 L385.0,315.3 L386.5,316.4 L388.0,317.7 L389.5,319.1 L391.0,320.4 L392.5,321.4 L394.0,322.2 L395.5,322.6 L397.0,322.5 L398.5,322.0 L400.0,321.2 L401.5,320.3 L403.0,319.2 L404.5,318.2 L406.0,317.4 L407.5,317.0 L409.0,316.9 L410.5,317.3 L412.0,318.0 L413.5,319.1 L415.0,320.4 L416.5,321.8 L418.0,323.1 L419.5,324.1 L421.0,324.9 L422.5,325.2 L424.0,325.2 L425.5,324.7 L427.0,323.9 L428.5,323.0 L430.0,321.9 L431.5,320.9 L433.0,320.1 L434.5,319.7 L436.0,319.6 L437.5,320.0 L439.0,320.7 L440.5,321.8 L442.0,323.1 L443.5,324.5 L445.0,325.8 L446.5,326.8 L448.0,327.6 L449.5,327.9 L451.0,327.9 L452.5,327.4 L454.0,326.6 L455.5,325.7 L457.0,324.6 L458.5,323.6 L460.0,322.8 L461.5,322.4 L463.0,322.3 L464.5,322.7 L466.0,323.4 L467.5,324.5 L469.0,325.8 L470.5,327.2 L472.0,328.4 L473.5,329.5 L475.0,330.3 L476.5,330.6 L478.0,330.6 L479.5,330.1 L481.0,329.4 L482.5,328.4 L484.0,327.3 L485.5,326.3 L487.0,325.5 L488.5,325.1 L490.0,325.0 L491.5,325.4 L493.0,326.1 L494.5,327.2 L496.0,328.5 L497.5,329.9 L499.0,331.1 L500.5,332.2 L502.0,333.0 L503.5,333.4 L505.0,333.3 L506.5,332.8 L508.0,332.1 L509.5,331.1 L511.0,330.0 L512.5,329.0 L514.0,328.2 L515.5,327.8 L517.0,327.7 L518.5,328.1 L520.0,328.8 L521.5,329.9 L523.0,331.2 L524.5,332.6 L526.0,333.9 L527.5,334.9 L529.0,335.7 L530.5,336.1 L532.0,336.0 L533.5,335.5 L535.0,334.8 L536.5,333.8 L538.0,332.7 L539.5,331.7 L541.0,330.9 L542.5,330.5 L544.0,330.4 L545.5,330.8 L547.0,331.5 L548.5,332.6 L550.0,333.9 L551.5,335.3 L553.0,336.6 L554.5,337.6 L556.0,338.4 L557.5,338.8 L559.0,338.7 L560.5,338.2 L562.0,337.4 L563.5,336.5 L565.0,335.4 L566.5,334.4 L568.0,333.6 L569.5,333.2 L571.0,333.1 L572.5,333.5 L574.0,334.2 L575.5,335.3 L577.0,336.6 L578.5,338.0 L580.0,339.2 L581.5,340.3 L583.0,341.1 L584.5,341.4 L586.0,341.4 L587.5,340.9 L589.0,340.1"/>
</g>
<g clip-path="url(#cTile)" stroke="#a85a44" stroke-width="1.5" fill="none" opacity="0.8">
<path d="M340.0,212.8 L341.5,213.2 L343.0,213.1 L344.5,212.6 L346.0,211.8 L347.5,210.9 L349.0,209.8 L350.5,208.8 L352.0,208.0 L353.5,207.6 L355.0,207.5 L356.5,207.9 L358.0,208.6 L359.5,209.7 L361.0,211.0 L362.5,212.4 L364.0,213.7 L365.5,214.7 L367.0,215.5 L368.5,215.8 L370.0,215.8 L371.5,215.3 L373.0,214.6 L374.5,213.6 L376.0,212.5 L377.5,211.5 L379.0,210.7 L380.5,210.3 L382.0,210.2 L383.5,210.6 L385.0,211.3 L386.5,212.4 L388.0,213.7 L389.5,215.1 L391.0,216.3 L392.5,217.4 L394.0,218.2 L395.5,218.6 L397.0,218.5 L398.5,218.0 L400.0,217.2 L401.5,216.3 L403.0,215.2 L404.5,214.2 L406.0,213.4 L407.5,213.0 L409.0,212.9 L410.5,213.3 L412.0,214.0 L413.5,215.1 L415.0,216.4 L416.5,217.8 L418.0,219.1 L419.5,220.1 L421.0,220.9 L422.5,221.2 L424.0,221.2 L425.5,220.7 L427.0,219.9 L428.5,219.0 L430.0,217.9 L431.5,216.9 L433.0,216.1 L434.5,215.7 L436.0,215.6 L437.5,216.0 L439.0,216.7 L440.5,217.8 L442.0,219.1 L443.5,220.5 L445.0,221.8 L446.5,222.8 L448.0,223.6 L449.5,223.9 L451.0,223.9 L452.5,223.4 L454.0,222.7 L455.5,221.7 L457.0,220.6 L458.5,219.6 L460.0,218.8 L461.5,218.4 L463.0,218.3 L464.5,218.7 L466.0,219.4 L467.5,220.5 L469.0,221.8 L470.5,223.2 L472.0,224.4 L473.5,225.5 L475.0,226.3 L476.5,226.7 L478.0,226.6 L479.5,226.1 L481.0,225.3 L482.5,224.4 L484.0,223.3 L485.5,222.3 L487.0,221.5 L488.5,221.1 L490.0,221.0 L491.5,221.4 L493.0,222.1 L494.5,223.2 L496.0,224.5 L497.5,225.9 L499.0,227.2 L500.5,228.2 L502.0,229.0 L503.5,229.3 L505.0,229.3 L506.5,228.8 L508.0,228.1 L509.5,227.1 L511.0,226.0 L512.5,225.0 L514.0,224.2 L515.5,223.8 L517.0,223.7 L518.5,224.1 L520.0,224.8 L521.5,225.9 L523.0,227.2 L524.5,228.6 L526.0,229.8 L527.5,230.9 L529.0,231.7 L530.5,232.1 L532.0,232.0 L533.5,231.5 L535.0,230.8 L536.5,229.8 L538.0,228.7 L539.5,227.7 L541.0,226.9 L542.5,226.5 L544.0,226.4 L545.5,226.8 L547.0,227.5 L548.5,228.6 L550.0,229.9 L551.5,231.3 L553.0,232.6 L554.5,233.6 L556.0,234.4 L557.5,234.8 L559.0,234.7 L560.5,234.2 L562.0,233.5 L563.5,232.5 L565.0,231.4 L566.5,230.4 L568.0,229.6 L569.5,229.2 L571.0,229.1 L572.5,229.5 L574.0,230.2 L575.5,231.3 L577.0,232.6 L578.5,234.0 L580.0,235.2 L581.5,236.3 L583.0,237.1 L584.5,237.4 L586.0,237.4 L587.5,236.9 L589.0,236.2"/>
<path d="M340.0,232.8 L341.5,233.2 L343.0,233.1 L344.5,232.6 L346.0,231.8 L347.5,230.9 L349.0,229.8 L350.5,228.8 L352.0,228.0 L353.5,227.6 L355.0,227.5 L356.5,227.9 L358.0,228.6 L359.5,229.7 L361.0,231.0 L362.5,232.4 L364.0,233.7 L365.5,234.7 L367.0,235.5 L368.5,235.8 L370.0,235.8 L371.5,235.3 L373.0,234.6 L374.5,233.6 L376.0,232.5 L377.5,231.5 L379.0,230.7 L380.5,230.3 L382.0,230.2 L383.5,230.6 L385.0,231.3 L386.5,232.4 L388.0,233.7 L389.5,235.1 L391.0,236.3 L392.5,237.4 L394.0,238.2 L395.5,238.6 L397.0,238.5 L398.5,238.0 L400.0,237.2 L401.5,236.3 L403.0,235.2 L404.5,234.2 L406.0,233.4 L407.5,233.0 L409.0,232.9 L410.5,233.3 L412.0,234.0 L413.5,235.1 L415.0,236.4 L416.5,237.8 L418.0,239.1 L419.5,240.1 L421.0,240.9 L422.5,241.2 L424.0,241.2 L425.5,240.7 L427.0,239.9 L428.5,239.0 L430.0,237.9 L431.5,236.9 L433.0,236.1 L434.5,235.7 L436.0,235.6 L437.5,236.0 L439.0,236.7 L440.5,237.8 L442.0,239.1 L443.5,240.5 L445.0,241.8 L446.5,242.8 L448.0,243.6 L449.5,243.9 L451.0,243.9 L452.5,243.4 L454.0,242.7 L455.5,241.7 L457.0,240.6 L458.5,239.6 L460.0,238.8 L461.5,238.4 L463.0,238.3 L464.5,238.7 L466.0,239.4 L467.5,240.5 L469.0,241.8 L470.5,243.2 L472.0,244.4 L473.5,245.5 L475.0,246.3 L476.5,246.7 L478.0,246.6 L479.5,246.1 L481.0,245.3 L482.5,244.4 L484.0,243.3 L485.5,242.3 L487.0,241.5 L488.5,241.1 L490.0,241.0 L491.5,241.4 L493.0,242.1 L494.5,243.2 L496.0,244.5 L497.5,245.9 L499.0,247.2 L500.5,248.2 L502.0,249.0 L503.5,249.3 L505.0,249.3 L506.5,248.8 L508.0,248.1 L509.5,247.1 L511.0,246.0 L512.5,245.0 L514.0,244.2 L515.5,243.8 L517.0,243.7 L518.5,244.1 L520.0,244.8 L521.5,245.9 L523.0,247.2 L524.5,248.6 L526.0,249.8 L527.5,250.9 L529.0,251.7 L530.5,252.1 L532.0,252.0 L533.5,251.5 L535.0,250.8 L536.5,249.8 L538.0,248.7 L539.5,247.7 L541.0,246.9 L542.5,246.5 L544.0,246.4 L545.5,246.8 L547.0,247.5 L548.5,248.6 L550.0,249.9 L551.5,251.3 L553.0,252.6 L554.5,253.6 L556.0,254.4 L557.5,254.8 L559.0,254.7 L560.5,254.2 L562.0,253.5 L563.5,252.5 L565.0,251.4 L566.5,250.4 L568.0,249.6 L569.5,249.2 L571.0,249.1 L572.5,249.5 L574.0,250.2 L575.5,251.3 L577.0,252.6 L578.5,254.0 L580.0,255.2 L581.5,256.3 L583.0,257.1 L584.5,257.4 L586.0,257.4 L587.5,256.9 L589.0,256.1"/>
<path d="M340.0,252.8 L341.5,253.2 L343.0,253.1 L344.5,252.6 L346.0,251.8 L347.5,250.9 L349.0,249.8 L350.5,248.8 L352.0,248.0 L353.5,247.6 L355.0,247.5 L356.5,247.9 L358.0,248.6 L359.5,249.7 L361.0,251.0 L362.5,252.4 L364.0,253.7 L365.5,254.7 L367.0,255.5 L368.5,255.8 L370.0,255.8 L371.5,255.3 L373.0,254.6 L374.5,253.6 L376.0,252.5 L377.5,251.5 L379.0,250.7 L380.5,250.3 L382.0,250.2 L383.5,250.6 L385.0,251.3 L386.5,252.4 L388.0,253.7 L389.5,255.1 L391.0,256.3 L392.5,257.4 L394.0,258.2 L395.5,258.6 L397.0,258.5 L398.5,258.0 L400.0,257.2 L401.5,256.3 L403.0,255.2 L404.5,254.2 L406.0,253.4 L407.5,253.0 L409.0,252.9 L410.5,253.3 L412.0,254.0 L413.5,255.1 L415.0,256.4 L416.5,257.8 L418.0,259.1 L419.5,260.1 L421.0,260.9 L422.5,261.2 L424.0,261.2 L425.5,260.7 L427.0,259.9 L428.5,259.0 L430.0,257.9 L431.5,256.9 L433.0,256.1 L434.5,255.7 L436.0,255.6 L437.5,256.0 L439.0,256.7 L440.5,257.8 L442.0,259.1 L443.5,260.5 L445.0,261.8 L446.5,262.8 L448.0,263.6 L449.5,263.9 L451.0,263.9 L452.5,263.4 L454.0,262.6 L455.5,261.7 L457.0,260.6 L458.5,259.6 L460.0,258.8 L461.5,258.4 L463.0,258.3 L464.5,258.7 L466.0,259.4 L467.5,260.5 L469.0,261.8 L470.5,263.2 L472.0,264.4 L473.5,265.5 L475.0,266.3 L476.5,266.6 L478.0,266.6 L479.5,266.1 L481.0,265.4 L482.5,264.4 L484.0,263.3 L485.5,262.3 L487.0,261.5 L488.5,261.1 L490.0,261.0 L491.5,261.4 L493.0,262.1 L494.5,263.2 L496.0,264.5 L497.5,265.9 L499.0,267.1 L500.5,268.2 L502.0,269.0 L503.5,269.4 L505.0,269.3 L506.5,268.8 L508.0,268.1 L509.5,267.1 L511.0,266.0 L512.5,265.0 L514.0,264.2 L515.5,263.8 L517.0,263.7 L518.5,264.1 L520.0,264.8 L521.5,265.9 L523.0,267.2 L524.5,268.6 L526.0,269.9 L527.5,270.9 L529.0,271.7 L530.5,272.1 L532.0,272.0 L533.5,271.5 L535.0,270.8 L536.5,269.8 L538.0,268.7 L539.5,267.7 L541.0,266.9 L542.5,266.5 L544.0,266.4 L545.5,266.8 L547.0,267.5 L548.5,268.6 L550.0,269.9 L551.5,271.3 L553.0,272.6 L554.5,273.6 L556.0,274.4 L557.5,274.8 L559.0,274.7 L560.5,274.2 L562.0,273.4 L563.5,272.5 L565.0,271.4 L566.5,270.4 L568.0,269.6 L569.5,269.2 L571.0,269.1 L572.5,269.5 L574.0,270.2 L575.5,271.3 L577.0,272.6 L578.5,274.0 L580.0,275.2 L581.5,276.3 L583.0,277.1 L584.5,277.4 L586.0,277.4 L587.5,276.9 L589.0,276.1"/>
<path d="M340.0,272.8 L341.5,273.1 L343.0,273.1 L344.5,272.6 L346.0,271.9 L347.5,270.9 L349.0,269.8 L350.5,268.8 L352.0,268.0 L353.5,267.6 L355.0,267.5 L356.5,267.9 L358.0,268.6 L359.5,269.7 L361.0,271.0 L362.5,272.4 L364.0,273.6 L365.5,274.7 L367.0,275.5 L368.5,275.9 L370.0,275.8 L371.5,275.3 L373.0,274.6 L374.5,273.6 L376.0,272.5 L377.5,271.5 L379.0,270.7 L380.5,270.3 L382.0,270.2 L383.5,270.6 L385.0,271.3 L386.5,272.4 L388.0,273.7 L389.5,275.1 L391.0,276.4 L392.5,277.4 L394.0,278.2 L395.5,278.6 L397.0,278.5 L398.5,278.0 L400.0,277.2 L401.5,276.3 L403.0,275.2 L404.5,274.2 L406.0,273.4 L407.5,273.0 L409.0,272.9 L410.5,273.3 L412.0,274.0 L413.5,275.1 L415.0,276.4 L416.5,277.8 L418.0,279.1 L419.5,280.1 L421.0,280.9 L422.5,281.2 L424.0,281.2 L425.5,280.7 L427.0,279.9 L428.5,279.0 L430.0,277.9 L431.5,276.9 L433.0,276.1 L434.5,275.7 L436.0,275.6 L437.5,276.0 L439.0,276.7 L440.5,277.8 L442.0,279.1 L443.5,280.5 L445.0,281.8 L446.5,282.8 L448.0,283.6 L449.5,283.9 L451.0,283.9 L452.5,283.4 L454.0,282.6 L455.5,281.7 L457.0,280.6 L458.5,279.6 L460.0,278.8 L461.5,278.4 L463.0,278.3 L464.5,278.7 L466.0,279.4 L467.5,280.5 L469.0,281.8 L470.5,283.2 L472.0,284.4 L473.5,285.5 L475.0,286.3 L476.5,286.6 L478.0,286.6 L479.5,286.1 L481.0,285.4 L482.5,284.4 L484.0,283.3 L485.5,282.3 L487.0,281.5 L488.5,281.1 L490.0,281.0 L491.5,281.4 L493.0,282.1 L494.5,283.2 L496.0,284.5 L497.5,285.9 L499.0,287.1 L500.5,288.2 L502.0,289.0 L503.5,289.4 L505.0,289.3 L506.5,288.8 L508.0,288.1 L509.5,287.1 L511.0,286.0 L512.5,285.0 L514.0,284.2 L515.5,283.8 L517.0,283.7 L518.5,284.1 L520.0,284.8 L521.5,285.9 L523.0,287.2 L524.5,288.6 L526.0,289.9 L527.5,290.9 L529.0,291.7 L530.5,292.1 L532.0,292.0 L533.5,291.5 L535.0,290.8 L536.5,289.8 L538.0,288.7 L539.5,287.7 L541.0,286.9 L542.5,286.5 L544.0,286.4 L545.5,286.8 L547.0,287.5 L548.5,288.6 L550.0,289.9 L551.5,291.3 L553.0,292.6 L554.5,293.6 L556.0,294.4 L557.5,294.8 L559.0,294.7 L560.5,294.2 L562.0,293.4 L563.5,292.5 L565.0,291.4 L566.5,290.4 L568.0,289.6 L569.5,289.2 L571.0,289.1 L572.5,289.5 L574.0,290.2 L575.5,291.3 L577.0,292.6 L578.5,294.0 L580.0,295.2 L581.5,296.3 L583.0,297.1 L584.5,297.4 L586.0,297.4 L587.5,296.9 L589.0,296.1"/>
<path d="M340.0,292.8 L341.5,293.1 L343.0,293.1 L344.5,292.6 L346.0,291.9 L347.5,290.9 L349.0,289.8 L350.5,288.8 L352.0,288.0 L353.5,287.6 L355.0,287.5 L356.5,287.9 L358.0,288.6 L359.5,289.7 L361.0,291.0 L362.5,292.4 L364.0,293.6 L365.5,294.7 L367.0,295.5 L368.5,295.9 L370.0,295.8 L371.5,295.3 L373.0,294.6 L374.5,293.6 L376.0,292.5 L377.5,291.5 L379.0,290.7 L380.5,290.3 L382.0,290.2 L383.5,290.6 L385.0,291.3 L386.5,292.4 L388.0,293.7 L389.5,295.1 L391.0,296.4 L392.5,297.4 L394.0,298.2 L395.5,298.6 L397.0,298.5 L398.5,298.0 L400.0,297.2 L401.5,296.3 L403.0,295.2 L404.5,294.2 L406.0,293.4 L407.5,293.0 L409.0,292.9 L410.5,293.3 L412.0,294.0 L413.5,295.1 L415.0,296.4 L416.5,297.8 L418.0,299.1 L419.5,300.1 L421.0,300.9 L422.5,301.2 L424.0,301.2 L425.5,300.7 L427.0,299.9 L428.5,299.0 L430.0,297.9 L431.5,296.9 L433.0,296.1 L434.5,295.7 L436.0,295.6 L437.5,296.0 L439.0,296.7 L440.5,297.8 L442.0,299.1 L443.5,300.5 L445.0,301.8 L446.5,302.8 L448.0,303.6 L449.5,303.9 L451.0,303.9 L452.5,303.4 L454.0,302.6 L455.5,301.7 L457.0,300.6 L458.5,299.6 L460.0,298.8 L461.5,298.4 L463.0,298.3 L464.5,298.7 L466.0,299.4 L467.5,300.5 L469.0,301.8 L470.5,303.2 L472.0,304.4 L473.5,305.5 L475.0,306.3 L476.5,306.6 L478.0,306.6 L479.5,306.1 L481.0,305.4 L482.5,304.4 L484.0,303.3 L485.5,302.3 L487.0,301.5 L488.5,301.1 L490.0,301.0 L491.5,301.4 L493.0,302.1 L494.5,303.2 L496.0,304.5 L497.5,305.9 L499.0,307.1 L500.5,308.2 L502.0,309.0 L503.5,309.4 L505.0,309.3 L506.5,308.8 L508.0,308.1 L509.5,307.1 L511.0,306.0 L512.5,305.0 L514.0,304.2 L515.5,303.8 L517.0,303.7 L518.5,304.1 L520.0,304.8 L521.5,305.9 L523.0,307.2 L524.5,308.6 L526.0,309.9 L527.5,310.9 L529.0,311.7 L530.5,312.1 L532.0,312.0 L533.5,311.5 L535.0,310.8 L536.5,309.8 L538.0,308.7 L539.5,307.7 L541.0,306.9 L542.5,306.5 L544.0,306.4 L545.5,306.8 L547.0,307.5 L548.5,308.6 L550.0,309.9 L551.5,311.3 L553.0,312.6 L554.5,313.6 L556.0,314.4 L557.5,314.8 L559.0,314.7 L560.5,314.2 L562.0,313.4 L563.5,312.5 L565.0,311.4 L566.5,310.4 L568.0,309.6 L569.5,309.2 L571.0,309.1 L572.5,309.5 L574.0,310.2 L575.5,311.3 L577.0,312.6 L578.5,314.0 L580.0,315.2 L581.5,316.3 L583.0,317.1 L584.5,317.4 L586.0,317.4 L587.5,316.9 L589.0,316.1"/>
<path d="M340.0,312.8 L341.5,313.1 L343.0,313.1 L344.5,312.6 L346.0,311.9 L347.5,310.9 L349.0,309.8 L350.5,308.8 L352.0,308.0 L353.5,307.6 L355.0,307.5 L356.5,307.9 L358.0,308.6 L359.5,309.7 L361.0,311.0 L362.5,312.4 L364.0,313.6 L365.5,314.7 L367.0,315.5 L368.5,315.9 L370.0,315.8 L371.5,315.3 L373.0,314.6 L374.5,313.6 L376.0,312.5 L377.5,311.5 L379.0,310.7 L380.5,310.3 L382.0,310.2 L383.5,310.6 L385.0,311.3 L386.5,312.4 L388.0,313.7 L389.5,315.1 L391.0,316.4 L392.5,317.4 L394.0,318.2 L395.5,318.6 L397.0,318.5 L398.5,318.0 L400.0,317.2 L401.5,316.3 L403.0,315.2 L404.5,314.2 L406.0,313.4 L407.5,313.0 L409.0,312.9 L410.5,313.3 L412.0,314.0 L413.5,315.1 L415.0,316.4 L416.5,317.8 L418.0,319.1 L419.5,320.1 L421.0,320.9 L422.5,321.2 L424.0,321.2 L425.5,320.7 L427.0,319.9 L428.5,319.0 L430.0,317.9 L431.5,316.9 L433.0,316.1 L434.5,315.7 L436.0,315.6 L437.5,316.0 L439.0,316.7 L440.5,317.8 L442.0,319.1 L443.5,320.5 L445.0,321.8 L446.5,322.8 L448.0,323.6 L449.5,323.9 L451.0,323.9 L452.5,323.4 L454.0,322.6 L455.5,321.7 L457.0,320.6 L458.5,319.6 L460.0,318.8 L461.5,318.4 L463.0,318.3 L464.5,318.7 L466.0,319.4 L467.5,320.5 L469.0,321.8 L470.5,323.2 L472.0,324.4 L473.5,325.5 L475.0,326.3 L476.5,326.6 L478.0,326.6 L479.5,326.1 L481.0,325.4 L482.5,324.4 L484.0,323.3 L485.5,322.3 L487.0,321.5 L488.5,321.1 L490.0,321.0 L491.5,321.4 L493.0,322.1 L494.5,323.2 L496.0,324.5 L497.5,325.9 L499.0,327.1 L500.5,328.2 L502.0,329.0 L503.5,329.4 L505.0,329.3 L506.5,328.8 L508.0,328.1 L509.5,327.1 L511.0,326.0 L512.5,325.0 L514.0,324.2 L515.5,323.8 L517.0,323.7 L518.5,324.1 L520.0,324.8 L521.5,325.9 L523.0,327.2 L524.5,328.6 L526.0,329.9 L527.5,330.9 L529.0,331.7 L530.5,332.1 L532.0,332.0 L533.5,331.5 L535.0,330.8 L536.5,329.8 L538.0,328.7 L539.5,327.7 L541.0,326.9 L542.5,326.5 L544.0,326.4 L545.5,326.8 L547.0,327.5 L548.5,328.6 L550.0,329.9 L551.5,331.3 L553.0,332.6 L554.5,333.6 L556.0,334.4 L557.5,334.8 L559.0,334.7 L560.5,334.2 L562.0,333.4 L563.5,332.5 L565.0,331.4 L566.5,330.4 L568.0,329.6 L569.5,329.2 L571.0,329.1 L572.5,329.5 L574.0,330.2 L575.5,331.3 L577.0,332.6 L578.5,334.0 L580.0,335.2 L581.5,336.3 L583.0,337.1 L584.5,337.4 L586.0,337.4 L587.5,336.9 L589.0,336.1"/>
</g>
<path d="M366,204 L548,326" stroke="#b4543f" stroke-width="2" opacity="0.6"/>
<!-- wood block and black strip -->
<path d="M499,336 L566,336 L572,362 L499,362 Z" fill="url(#gWood)"/>
<path d="M480,360 L578,361 L585,366 L480,364 Z" fill="#2a2a2a"/>
<!-- insulation upper (cream) -->
<path d="M560,362 L575,362 L575,642 L548,640 L545,615 L541,580 L543,515 L549,450 Z" fill="url(#gIns)"/>
<!-- dark region between bricks and pipe (lower) -->
<path d="M548,640 L575,640 L575,765 L548,765 Z" fill="url(#pBrick)"/>
<path d="M569,655 L575,655 L575,765 L569,765 Z" fill="#4a3a34"/>
<!-- brick strip -->
<path d="M536,365 L560,365 L549,450 L543,515 L541,580 L545,615 L548,640 L556,665 L551,690 L551,760 L554,773 L558,806 L556,828 L550,843 L543,842 L535,830 L531,800 L530,746 L535,700 L540,667 L527,640 L521,620 L519,580 L520,515 L529,450 Z" fill="url(#pBrick)"/>
<!-- pipe top section -->
<path d="M574,116 Q597,110 620,116 L620,148 L619,148 L619,282 L575,282 L575,148 L574,148 Z" fill="url(#gPipe)"/>
<ellipse cx="597" cy="114" rx="23" ry="3" fill="#c8c8cc"/>
<path d="M573,135 L620,135 M573,148 L620,148 M573,247 L620,247 M573,257 L620,257" stroke="#8a8a90" stroke-width="1"/>
<!-- right roof -->
<path d="M612,308 L623,312 L700,360 L716,366 L640,368 L612,352 Z" fill="url(#gTile)"/>
<path d="M640,335 L700,362" stroke="#b95d4a" stroke-width="1.2"/>
<path d="M611,352 L645,358 L640,372 L612,365 Z" fill="#6b5040"/>
<!-- fascia -->
<path d="M632,368 L692,375 L686,391 L633,388 Z" fill="#c9a063"/>
<!-- gutter -->
<path d="M633,363 L716,366 L712,374 L694,376 L650,374 Z" fill="#b55a45"/>
<!-- flashing -->
<path d="M540,306 L572,312 L600,318 L630,330 L662,353 L600,356 L575,346 L555,330 Z" fill="#c6c9cd"/>
<!-- storm collar -->
<path d="M570,282 L623,282 L622,291 L571,291 Z" fill="url(#gCollar)"/>
<path d="M573,291 L620,291 L625,341 L572,343 Z" fill="url(#gPipe)"/>
<!-- pipe lower -->
<path d="M573,342 L617,342 L617,762 L573,762 Z" fill="url(#gPipe2)"/>
<path d="M573,362 L617,362 M573,367 L617,367 M573,465 L617,465 M573,470 L617,470 M573,602 L617,602 M573,608 L617,608 M573,673 L617,673 M573,679 L617,679" stroke="#8e8e94" stroke-width="1"/>
<path d="M573,364.5 L617,364.5 M573,467.5 L617,467.5 M573,605 L617,605 M573,676 L617,676" stroke="#f0f0f4" stroke-width="1.5"/>
<path d="M574,205 L580,205 L580,282 L574,282 Z" fill="#a8706a" opacity="0.55"/>
<!-- small wall clamp -->
<path d="M556,448 L570,448 L570,457 L556,457 Z" fill="#d6d6d8" stroke="#9a9a9e" stroke-width="0.8"/>
<!-- wall bracket mid -->
<path d="M549,486 L636,486 L636,491 L549,491 Z" fill="#b9bbbf"/>
<path d="M549,491 L601,491 L561,569 L549,569 Z" fill="#979aa0"/>
<path d="M617,491 L636,491 L617,526 Z" fill="#7b7d82"/>
<!-- black flue pipe -->
<path d="M485,686 L524,637 L546,666 L497,715 Z" fill="#2b2b2b"/>

<!-- connector stub -->
<path d="M556,634 Q557,617 571,616 L574,616 L574,634 Z" fill="#cfc8b4"/>
<path d="M556,634 Q557,617 571,616" fill="none" stroke="#2a2a2a" stroke-width="1.3"/>
<path d="M547,633 L578,633 L577,640 L548,640 Z" fill="#6e7276"/>
<path d="M547,640 L578,640 L578,645 L548,645 Z" fill="#e2e6ea"/>
<path d="M548,645 L577,645 L575,655 L550,655 Z" fill="#c4605a"/>
<path d="M550,655 L575,655 L573,659 L552,659 Z" fill="#a8acb0"/>
<ellipse cx="539" cy="648" rx="8" ry="15" transform="rotate(38 539 648)" fill="#1a1a1a"/>
<!-- base bracket -->
<path d="M548,685 L556,685 L556,762 L548,762 Z" fill="#b4b6ba"/>
<path d="M556,690 L590,762 L556,762 Z" fill="#b65c54"/>
<path d="M556,685 L563,685 L600,760 L592,762 Z" fill="#a4a6ab"/>
<path d="M548,760 L631,760 L631,771 L548,771 Z" fill="#c2c4c8"/>
<!-- tee cap -->
<path d="M580,693 L610,689 L610,738 L586,735 Q577,715 580,693 Z" fill="url(#gTube)"/>
<path d="M582,713 L608,699 L608,729 Z" fill="#b0564e"/>
<ellipse cx="616.5" cy="714" rx="13" ry="22" fill="#b6b8bc"/>
<!-- boiler -->
<path d="M429,694.7 L497,687.3 L498,843 L429,845 Z" fill="url(#gBoilerSide)"/>
<path d="M357,688 L429,694.7 L429,845 L357,845 Z" fill="url(#gBoilerFront)"/>
<path d="M357,688 L425,683.3 L497,687.3 L429,694.7 Z" fill="#b52018"/>
<path d="M364.3,714.7 L416.3,716 L416.3,753.3 L364.3,752 Z" fill="#1c1a1a"/>
<path d="M364.3,757 L416.3,758 L416.3,812 L364.3,811 Z" fill="#1c1a1a"/>
<path d="M364.3,822.7 L416.3,823.5 L416.3,845 L364.3,845 Z" fill="#1c1a1a"/>
<path d="M409,676 L439,677 L442,691 L402,690 Z" fill="#222"/>
<path d="M412,680 L433,680.5 L431,689 L409,688 Z" fill="#e8e8e8"/>
<!-- floor slabs -->
<path d="M116.8,920.5 Q120,911 132,909 L363,854 L400,850 L400,905 L239,950 Z" fill="#f5f5f5"/>
<path d="M116.8,920.5 L239,950 L239,968 L116.8,938 Z" fill="#ededed"/>
<path d="M142.5,905 Q145,895 156,892 L358,856 L400,852 L400,905 L253,930 Z" fill="#f0f0f0"/>
<path d="M142.5,905 L253,930 L251,948.5 L142.5,920.5 Z" fill="url(#gSlab)"/>
<path d="M167,902 Q170,893 185,890 L360,858 L400,855 L400,908 L276,922 Z" fill="#e6e6e6"/>
<path d="M192.7,898 Q194,889 206,887 L356,862 L400,858 L400,908 L276.7,921.7 L206.7,907.7 Z" fill="#c9c9cb"/>
<path d="M236,892 L300,913 M280,884 L345,902 M200,902 L340,878" stroke="#a9a9ab" stroke-width="1" fill="none"/>
<path d="M167,899 Q168,905 180,908 L262,927" fill="none" stroke="#55575a" stroke-width="1.1"/>
<path d="M194,896 Q196,904 210,908 L262,919" fill="none" stroke="#55575a" stroke-width="1.1"/>
<!-- cream lower wall -->
<path d="M609,768 L609,885 L262,970 L267,968 L323,910 L365,863 L392,851 Q405,838 425,827 Q445,815 468,815 Q490,818 512,832 Q525,842 531,842 Q546,841 555,823 Q560,801 555,780 L554,768 Z" fill="url(#gCream)"/>
<!-- brick wave -->
<path d="M234,972 L295,910 L347,863 L403,823 Q425,812 447,811 L480,813 L468,815 Q445,815 425,827 Q405,838 392,851 L365,863 L323,910 L267,968 Z" fill="url(#pBrick)"/>
<!-- gravel strip -->
<path d="M245,970 L510,908.7 L627,884 L617,889 L510,916.3 L265,974 Z" fill="#c4c4c4"/>
<path d="M250,971 L510,911 L620,887" stroke="#e6e6e6" stroke-width="1.2" fill="none"/>
<!-- soil left -->
<path d="M92,932 L117,925 L220,968 L195,975 L195,1040 L136,1023 Z" fill="#94846c"/>
<!-- soil right -->
<path d="M265,971 L310.7,981 L380,975 L445,959 L510,933 L567,915 L617,909 L667,900 Q690,895 695,885 L695,895 L676,940 Q668,968 657,979 C640,986 625,990 613,992 C580,1000 550,1006 527,1014 C500,1022 470,1032 440,1044 C410,1057 390,1062 375,1066 L310,1076.5 L295,1070 Z" fill="url(#gSoil)"/>
<path d="M255,972 L310.7,984.5 L310,1076.5 L285,1072 Z" fill="#ae977a"/>
<!-- grass -->
<path d="M265,974 L510,916.3 L617,889 L609,884 L609,865 Q640,862 667,869 Q690,876 695,888 Q690,898 667,903 L617,912 L567,918 L510,934.7 L445,960.7 L380,978 L310.7,984.5 Z" fill="url(#gGrass)"/>
<path d="M662,851 Q666,848 671,851 Q667,854 662,851 Z" fill="#9a9a9a"/>
<path d="M663,858 L669,858 L667,861 L667,866 L665,866 L665,861 Z" fill="#6a6a60"/>
<!-- foundation -->
<path d="M193,975 L219,968 L266,972 L245,979 Z" fill="#b8b0a2"/>
<path d="M193,975 L245,979 L245,1083 L193,1070 Z" fill="#aaa394"/>
<path d="M245,979 L266,972 L296,1070 L245,1083 Z" fill="url(#gFound)"/>
<path d="M245,972 L268,968 L270,982 L250,985 Z" fill="#cfcfcf"/>
</g>

<g id="lines" fill="none" stroke="#6f6f6f" stroke-width="2.8">
<polyline points="287,256.5 332.5,256.5 332.5,452 556,452"/>
<polyline points="254,509 504.5,509 504.5,632.5 527,632.5"/>
<polyline points="203,645 546,645"/>
<polyline points="621,302.3 717,302.3"/>
<polyline points="616,418.3 1045,418.3"/>
<polyline points="637,488.3 741,488.3"/>
<polyline points="630,765 981,765"/>
<polyline points="630,715 686.5,715 686.5,827 809,827"/>
</g>
<g id="boxes" fill="#fff" stroke="#6f6f6f" stroke-width="3">
<rect x="53.5" y="119.5" width="232" height="179" rx="8"/>
<rect x="59.5" y="358.5" width="193" height="190" rx="8"/>
<rect x="18.5" y="601.5" width="183" height="247" rx="8"/>
<rect x="718.5" y="140.5" width="293" height="198" rx="8"/>
<rect x="1045.4" y="211.5" width="132.8" height="280.9" rx="8"/>
<rect x="742.5" y="457.5" width="209" height="154" rx="8"/>
<rect x="982.5" y="655.5" width="184" height="136" rx="8"/>
<rect x="810.5" y="794.5" width="152" height="250" rx="8"/>
</g>

<g id="products">
<!-- ===== WAJ ===== -->
<g id="waj">
<path d="M64.7,170 L141.3,138 L142.7,160.7 L66,193.3 Z" fill="#bfc0c4"/>
<path d="M84,163 L115,150 L120,160 L90,174 Z" fill="#a9abb0"/>
<ellipse cx="78.5" cy="177" rx="6.5" ry="2.3" transform="rotate(-24 78.5 177)" fill="#fff"/>
<ellipse cx="128.7" cy="155" rx="6" ry="2.2" transform="rotate(-24 128.7 155)" fill="#fff"/>
<path d="M98.7,156.7 L110.7,153.3 L148,172.7 L136,176.7 Z" fill="#b2b4b8"/>
<path d="M104,194 L185.3,156 L208,166 L128,204.7 Z" fill="url(#gArm)"/>
<path d="M104,195 L128,205 L128,230 L104,218 Z" fill="#ececee"/>
<path d="M128,205 L145,199 L145,231 L128,230 Z" fill="#dcdce0"/>
<ellipse cx="136" cy="217" rx="3" ry="3" fill="#6e6e74"/>
<!-- ring -->
<path d="M144.4,204.3 A63,30.6 0 0 1 270.4,204.3 L270.4,229.3 A63,30.6 0 0 1 144.4,229.3 Z" fill="url(#gRing)"/>
<path d="M144.4,204.3 A63,30.6 0 0 0 270.4,204.3 A63,30.6 0 0 0 144.4,204.3 Z" fill="#fff"/>
<path d="M144.4,204.3 A63,30.6 0 0 1 270.4,204.3 L270.4,220 A63,24 0 0 0 144.4,220 Z" fill="#e4e4e8"/>
<path d="M144.4,204.3 A63,30.6 0 0 0 270.4,204.3 A63,30.6 0 0 0 144.4,204.3 Z" fill="none" stroke="#9a9aa0" stroke-width="1"/>
<path d="M144.4,204.3 L144.4,229.3 A63,30.6 0 0 0 270.4,229.3 L270.4,204.3" fill="none" stroke="#b0b0b6" stroke-width="1"/>
</g>
<!-- ===== WRJ ===== -->
<g id="wrj">
<path d="M90.5,500 L90.5,446 L129,388 L150,394 L205,462 L185.7,488 L185.7,526 Q138,545 90.5,528 Z" fill="#e9e9ed"/>
<path d="M90.5,500 L90.5,444 L129,388 L137,386 L97,447 L97,500 Z" fill="#c2c2c8"/>
<path d="M94,455 L115,426 L129,404 L155,440 L139,454 L117,476 L117,537 Q104,536 95,533 Z" fill="#8e8e94"/>
<path d="M113,424 L139,457 L178,474" fill="none" stroke="#f2f2f6" stroke-width="2"/>
<path d="M90.5,497 Q138,512 185.7,497" fill="none" stroke="#9a9aa0" stroke-width="1"/>
<path d="M90.5,500 Q138,515 185.7,500" fill="none" stroke="#f6f6f8" stroke-width="1.5"/>
<path d="M90.5,504 Q138,519 185.7,504" fill="none" stroke="#a4a4aa" stroke-width="1"/>
<ellipse cx="175" cy="423" rx="55" ry="35" transform="rotate(45 175 423)" fill="#f7f7f8" stroke="#c8c8cc" stroke-width="1"/>
<ellipse cx="176.4" cy="416.8" rx="38" ry="26" transform="rotate(45 176.4 416.8)" fill="url(#gHole)"/>
<ellipse cx="170" cy="426" rx="18" ry="12" transform="rotate(45 170 426)" fill="#dcdce0" opacity="0.85"/>
</g>

<!-- ===== TRJ ===== -->
<g id="trj">
<path d="M46.5,623 L127.4,623 L127.4,831.5 Q87,840 46.5,831.5 Z" fill="url(#gMetal)"/>
<ellipse cx="87" cy="623" rx="40.5" ry="6" fill="#dcdce0"/>
<ellipse cx="87" cy="623.5" rx="30" ry="4" fill="url(#gTopHole)"/>
<path d="M46.5,643.0 Q87.0,650.0 127.4,643.0" fill="none" stroke="#8c9096" stroke-width="1"/>
<path d="M46.5,645.0 Q87.0,652.0 127.4,645.0" fill="none" stroke="#f4f5f8" stroke-width="1.6"/>
<path d="M46.5,800.0 Q87.0,808.0 127.4,800.0" fill="none" stroke="#8c9096" stroke-width="1"/>
<path d="M46.5,802.0 Q87.0,810.0 127.4,802.0" fill="none" stroke="#f4f5f8" stroke-width="1.6"/>
<path d="M63.3,728 Q70,705 100,693 L150,703 L150,782 L112,772 Q75,760 63.3,745 Z" fill="url(#gBranch)"/>
<path d="M98,692 Q95,740 110,772" stroke="#f0f0f2" stroke-width="1.5" fill="none"/>
<ellipse cx="148.5" cy="743" rx="27" ry="41" transform="rotate(-12 148.5 743)" fill="#5e5e64"/>
<ellipse cx="146" cy="742" rx="20" ry="31" transform="rotate(-12 146 742)" fill="#a8a8ae"/>
<ellipse cx="145" cy="742" rx="15" ry="25" transform="rotate(-12 145 742)" fill="#7a7a80"/>
<ellipse cx="142" cy="742" rx="8" ry="16" transform="rotate(-12 142 742)" fill="#c4c4c8" opacity="0.7"/>
</g>
<!-- ===== DBWJ ===== -->
<g id="dbwj">
<path d="M730.8,182.3 L848.7,150.8 L999.2,287.3 L883.7,322.3 Z" fill="url(#gSheet)"/>
<clipPath id="cSheet"><path d="M730.8,182.3 L848.7,150.8 L999.2,287.3 L883.7,322.3 Z"/></clipPath>
<g clip-path="url(#cSheet)"><ellipse cx="812" cy="248" rx="13" ry="12" fill="#8e8e94"/>
<ellipse cx="862" cy="292" rx="9" ry="10" fill="#96969c"/></g>
<path d="M815,254 L836,226 L845,240 L888,262 L876,280 L858,286 L840,279 L818,265 Z" fill="url(#gTube)"/>
<path d="M834.7,185 L903.5,185 L903.5,254 Q895,264 878,264 Q855,258 841.7,243 Q836,225 834.7,185 Z" fill="url(#gMetal2)"/>
<ellipse cx="869" cy="186" rx="34" ry="5" fill="#8a8a90"/>
<ellipse cx="867.9" cy="171.8" rx="42.6" ry="12.5" fill="#dcdce0"/>
<ellipse cx="868" cy="170.5" rx="41" ry="11" fill="#eeeef0"/>
<ellipse cx="877" cy="168" rx="22" ry="6.5" fill="#fbfbfc"/>
</g>
<!-- ===== GRJ ===== -->
<g id="grj">
<path d="M1066,245 L1158,245 L1158,464 Q1112,474 1066,464 Z" fill="url(#gMetal)"/>
<ellipse cx="1112" cy="245" rx="46" ry="6" fill="#d0d0d4"/>
<ellipse cx="1112" cy="245.5" rx="35" ry="5" fill="url(#gTopHole)"/>
<path d="M1066.0,272.0 Q1112.0,280.0 1158.0,272.0" fill="none" stroke="#8c9096" stroke-width="1"/>
<path d="M1066.0,274.0 Q1112.0,282.0 1158.0,274.0" fill="none" stroke="#f4f5f8" stroke-width="1.6"/>
<path d="M1066.0,432.0 Q1112.0,440.0 1158.0,432.0" fill="none" stroke="#8c9096" stroke-width="1"/>
<path d="M1066.0,434.0 Q1112.0,442.0 1158.0,434.0" fill="none" stroke="#f4f5f8" stroke-width="1.6"/>
</g>
<!-- ===== GPOZJ ===== -->
<g id="gpozj">
<path d="M800,560 L900,560 L900,594 Q850,602 800,594 Z" fill="url(#gMetal)"/>
<path d="M750,535 L798,524 L942,527 L834,570 Z" fill="#c9cbce"/>
<path d="M796,477 L903,477 L903,548 Q850,556 796,548 Z" fill="url(#gMetal)"/>
<ellipse cx="849.5" cy="477" rx="53.5" ry="8" fill="#d8d8dc"/>
<ellipse cx="849.5" cy="477.5" rx="39" ry="5.5" fill="url(#gTopHole)"/>
<path d="M796.0,509.0 Q850.0,517.0 903.0,509.0" fill="none" stroke="#8c9096" stroke-width="1"/>
<path d="M796.0,511.0 Q850.0,519.0 903.0,511.0" fill="none" stroke="#f4f5f8" stroke-width="1.6"/>
<path d="M750,535 L834,570 L834,580 L750,554 Z" fill="#a9abb0"/>
<path d="M834,570 L942,527 L942,552 L834,580 Z" fill="#babcc0"/>
<ellipse cx="761" cy="547" rx="4.5" ry="2" transform="rotate(20 761 547)" fill="#fff"/>
<ellipse cx="789" cy="557" rx="4.5" ry="2" transform="rotate(20 789 557)" fill="#fff"/>
<ellipse cx="823" cy="569" rx="4.5" ry="2" transform="rotate(20 823 569)" fill="#fff"/>
</g>
<!-- ===== GPKJ ===== -->
<g id="gpkj">
<path d="M992,737 L1024,730 L1140,732 L1159,740 L1074,767 Z" fill="#c9cbce"/>
<path d="M1022,681 L1129,681 L1129,745 Q1075,755 1022,745 Z" fill="url(#gMetal)"/>
<ellipse cx="1075.5" cy="681" rx="53.5" ry="8.5" fill="#d8d8dc"/>
<ellipse cx="1075.5" cy="681.5" rx="39" ry="5.5" fill="url(#gTopHole)"/>
<path d="M1022.0,713.0 Q1075.0,721.0 1129.0,713.0" fill="none" stroke="#8c9096" stroke-width="1"/>
<path d="M1022.0,715.0 Q1075.0,723.0 1129.0,715.0" fill="none" stroke="#f4f5f8" stroke-width="1.6"/>
<path d="M992,737 L1074,767 L1074,782 L992,756 Z" fill="#a9abb0"/>
<path d="M1074,767 L1159,740 L1159,760 L1074,782 Z" fill="#babcc0"/>
<ellipse cx="1003" cy="750" rx="4.5" ry="2" transform="rotate(20 1003 750)" fill="#fff"/>
<ellipse cx="1030" cy="760" rx="4.5" ry="2" transform="rotate(20 1030 760)" fill="#fff"/>
<ellipse cx="1061" cy="770" rx="4.5" ry="2" transform="rotate(20 1061 770)" fill="#fff"/>
</g>
<!-- ===== RGJ ===== -->
<g id="rgj">
<path d="M831.7,827 L941.2,827 L941.2,1010 Q886,1022 831.7,1010 Z" fill="url(#gMetal)"/>
<ellipse cx="886.5" cy="827" rx="54.7" ry="8.5" fill="#d4d4d8"/>
<ellipse cx="886.5" cy="827.5" rx="41" ry="5.5" fill="url(#gTopHole)"/>
<path d="M831.7,857.0 Q886.0,865.0 941.2,857.0" fill="none" stroke="#8c9096" stroke-width="1"/>
<path d="M831.7,859.0 Q886.0,867.0 941.2,859.0" fill="none" stroke="#f4f5f8" stroke-width="1.6"/>
<path d="M831.7,975.0 Q886.0,983.0 941.2,975.0" fill="none" stroke="#8c9096" stroke-width="1"/>
<path d="M831.7,977.0 Q886.0,985.0 941.2,977.0" fill="none" stroke="#f4f5f8" stroke-width="1.6"/>
<path d="M915,888 L930,888 L930,965 L915,965 Q890,950 888,926 Q890,900 915,888 Z" fill="#b4b4ba"/>
<ellipse cx="928" cy="926" rx="27" ry="39" fill="#e4e4e8" stroke="#a8a8ae" stroke-width="1.5"/>
<ellipse cx="930" cy="928" rx="18" ry="22" fill="#c8c8cc"/>
<ellipse cx="926" cy="928" rx="6" ry="7" fill="#8e8e94"/>
</g>
</g>

<g id="labels">
<text x="0" y="330" transform="translate(163.5,0) scale(0.964,1)">WAJ</text>
<text x="0" y="583.2" transform="translate(155.5,0) scale(0.931,1)">WRJ</text>
<text x="0" y="883.7" transform="translate(103.0,0) scale(0.858,1)">TRJ</text>
<text x="0" y="373.2" transform="translate(865.6,0) scale(0.926,1)">DBWJ</text>
<text x="0" y="529.2" transform="translate(1111.0,0) scale(0.887,1)">GRJ</text>
<text x="0" y="647.2" transform="translate(846.5,0) scale(0.920,1)">GPOZJ</text>
<text x="0" y="827.2" transform="translate(1075.0,0) scale(0.895,1)">GPKJ</text>
<text x="0" y="1080.2" transform="translate(882.5,0) scale(0.868,1)">RGJ</text>
</g>

</svg>
</body></html>
